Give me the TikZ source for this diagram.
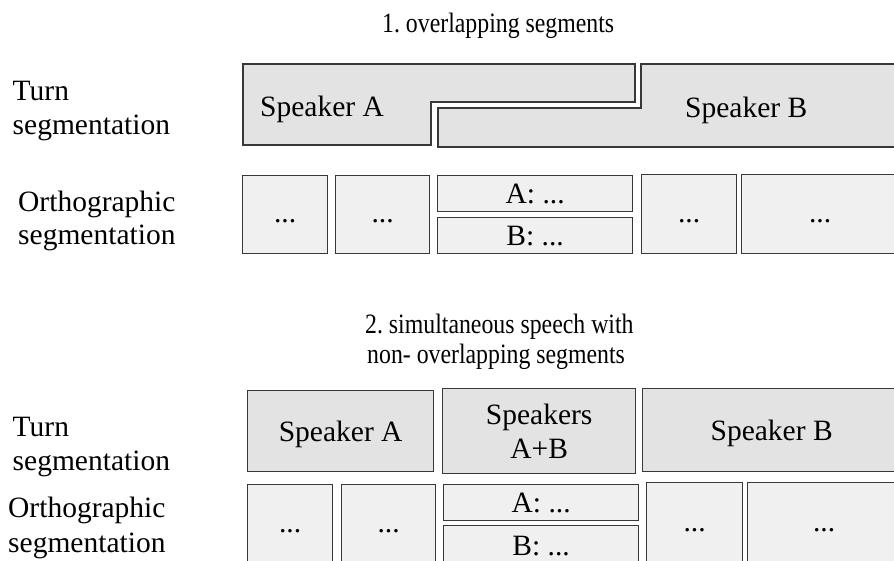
\documentclass[tikz,border=0pt]{standalone}
\usepackage{fontspec}
\setmainfont{Liberation Serif}
\newfontfamily\titlefont[FakeStretch=0.85]{Liberation Serif}
\frenchspacing
\begin{document}
\begin{tikzpicture}[x=1pt,y=-1pt,
  turnbox/.style={fill=black!11, draw=black!78, line width=1.3pt},
  orthobox/.style={fill=black!6, draw=black!78, line width=1.3pt, anchor=north west,
    inner sep=0pt, font=\fontsize{29.5}{34}\selectfont},
  dotbox/.style={orthobox, text height=20pt, text depth=4pt},
  tbox/.style={turnbox, anchor=north west, inner sep=0pt, align=center, text depth=0pt,
    font=\fontsize{29.5}{34}\selectfont},
  lbl/.style={font=\fontsize{29.5}{34}\selectfont, inner sep=0pt, anchor=base west},
  ttl/.style={font=\titlefont\fontsize{28}{34}\selectfont, inner sep=0pt, anchor=base west}
]
\useasboundingbox (0,0) rectangle (894,561);
\clip (0,0) rectangle (894,561);

% titles
\node[ttl] (title1) at (382,33) {1. overlapping segments};
\node[ttl] (title2a) at (365,333) {2. simultaneous speech with};
\node[ttl] (title2b) at (367,363) {non- overlapping segments};

% left labels
\node[lbl] (l1a) at (12.5,101) {Turn};
\node[lbl] (l1b) at (12.5,135) {segmentation};
\node[lbl] (l2a) at (18,212) {Orthographic};
\node[lbl] (l2b) at (18,245) {segmentation};
\node[lbl] (l3a) at (12.5,436) {Turn};
\node[lbl] (l3b) at (12.5,470) {segmentation};
\node[lbl] (l4a) at (8,517) {Orthographic};
\node[lbl] (l4b) at (8,552) {segmentation};

% section 1: overlapping turns
\draw[turnbox] (243,64) -- (635,64) -- (635,102) -- (431,102) -- (431,145) -- (243,145) -- cycle;
\draw[turnbox] (641,64) -- (905,64) -- (905,147) -- (438,147) -- (438,108) -- (641,108) -- cycle;
\node[lbl] (spA1) at (260,117) {Speaker A};
\node[lbl] (spB1) at (685,118) {Speaker B};

% section 1: orthographic
\node[dotbox, minimum width=85, minimum height=78] (o11) at (242,175) {...};
\node[dotbox, minimum width=94, minimum height=78] (o12) at (335,175) {...};
\node[orthobox, minimum width=195, minimum height=36] (o13a) at (437,175) {A: ...};
\node[orthobox, minimum width=195, minimum height=36] (o13b) at (437,217) {B: ...};
\node[dotbox, minimum width=95, minimum height=79] (o14) at (641,174) {...};
\node[dotbox, minimum width=157, minimum height=79] (o15) at (741,174) {...};

% section 2: turns
\node[tbox, minimum width=186, minimum height=81] (t21) at (247,390) {Speaker A};
\node[tbox, minimum width=193, minimum height=85] (t22) at (442,388) {Speakers\\A+B};
\node[tbox, minimum width=258, minimum height=83] (t23) at (642,388) {Speaker B};

% section 2: orthographic
\node[dotbox, minimum width=85, minimum height=80] (o21) at (247,484) {...};
\node[dotbox, minimum width=94, minimum height=80] (o22) at (341,484) {...};
\node[orthobox, minimum width=195, minimum height=36] (o23a) at (443,484) {A: ...};
\node[orthobox, minimum width=195, minimum height=40] (o23b) at (443,525) {B: ...};
\node[dotbox, minimum width=96, minimum height=82] (o24) at (646,482) {...};
\node[dotbox, minimum width=153, minimum height=82] (o25) at (747,482) {...};
\end{tikzpicture}
\end{document}
